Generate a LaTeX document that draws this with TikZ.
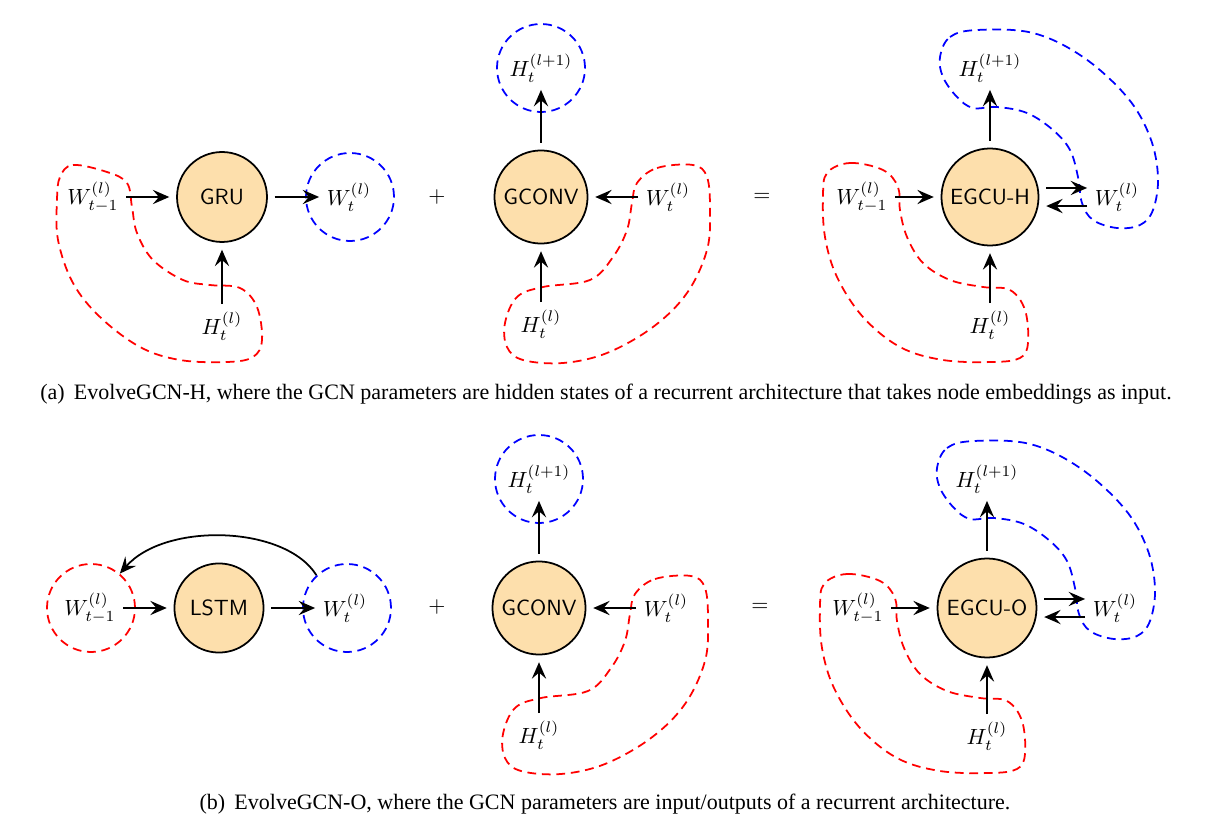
\documentclass[tikz,border=0pt]{standalone}
\usepackage{fontspec}
\newfontfamily\capfont{Liberation Serif}
\usetikzlibrary{arrows.meta}
\definecolor{procfill}{RGB}{253,223,172}
\tikzset{
  proc/.style={circle, draw=black, thick, fill=procfill, font=\sffamily, inner sep=0pt, outer sep=3.5pt},
  lbl/.style={inner sep=3.3pt},
  bcirc/.style={circle, draw=blue, thick, dash pattern=on 4pt off 2.6pt, minimum size=40pt, inner sep=0pt},
  rcirc/.style={circle, draw=red, thick, dash pattern=on 4pt off 2.6pt, minimum size=40pt, inner sep=0pt},
  rblob/.style={draw=red, thick, dash pattern=on 4pt off 2.6pt},
  bblob/.style={draw=blue, thick, dash pattern=on 4pt off 2.6pt},
  arr/.style={thick, -{Stealth[length=7.5pt, width=6.5pt, inset=2.8pt]}},
  capt/.style={font=\capfont, inner sep=0pt}
}
\begin{document}
\begin{tikzpicture}[x=0.4545pt, y=-0.4545pt]
\useasboundingbox (0,0) rectangle (1213,829);

% ===================== (a) =====================
% left: GRU
\draw[rblob] plot[smooth cycle, tension=0.6] coordinates {(60,177) (73,165) (107,172) (127,183) (132,207) (137,233) (153,260) (183,280) (210,285) (240,288) (257,307) (262,340) (253,357) (227,362) (180,360) (140,347) (100,317) (73,283) (58,240) (57,200)};
\node[proc, minimum size=40.9pt] (gru) at (222,197) {GRU};
\node[lbl] (wt1a) at (93,197) {$W_{t-1}^{(l)}$};
\node[lbl] (wta) at (349,197) {$W_{t}^{(l)}$};
\node[bcirc] (wtac) at (350,197) {};
\node[lbl] (hta) at (222,326) {$H_{t}^{(l)}$};
\draw[arr] (wt1a) -- (gru);
\draw[arr] (gru) -- (wta);
\draw[arr] (hta) -- (gru);

\node (plusa) at (437,197) {$+$};

% middle: GCONV
\draw[rblob] plot[smooth cycle, tension=0.6] coordinates {(637,183) (657,168) (693,165) (707,177) (710,210) (707,250) (687,293) (653,327) (607,353) (563,363) (523,360) (507,347) (505,323) (517,297) (543,287) (590,280) (613,257) (627,230) (632,203)};
\node[proc, minimum size=42.3pt] (gconva) at (541,197) {GCONV};
\node[lbl] (hl1a) at (541,68) {$H_{t}^{(l+1)}$};
\node[bcirc] (hl1ac) at (541,68) {};
\node[lbl] (wtma) at (668,197) {$W_{t}^{(l)}$};
\node[lbl] (htma) at (541,324) {$H_{t}^{(l)}$};
\draw[arr] (gconva) -- (hl1a);
\draw[arr] (wtma) -- (gconva);
\draw[arr] (htma) -- (gconva);

\node (eqa) at (762,197) {$=$};

% right: EGCU-H
\draw[bblob] plot[smooth cycle, tension=0.6] coordinates {(940,57) (950,37) (977,30) (1033,33) (1083,57) (1127,97) (1150,137) (1158,177) (1153,210) (1140,225) (1117,228) (1093,220) (1082,203) (1078,177) (1070,150) (1053,130) (1027,113) (997,107) (973,108) (957,97) (943,77)};
\draw[rblob] plot[smooth cycle, tension=0.6] coordinates {(827,173) (850,163) (883,170) (898,187) (900,210) (907,237) (923,263) (950,280) (983,287) (1010,290) (1025,310) (1028,343) (1020,358) (993,362) (943,360) (900,347) (863,317) (837,277) (825,237) (823,197)};
\node[proc, minimum size=44.1pt] (egcuh) at (990,197) {EGCU-H};
\node[lbl] (hl1r) at (990,68) {$H_{t}^{(l+1)}$};
\node[lbl] (wt1r) at (862,197) {$W_{t-1}^{(l)}$};
\node[lbl] (wtr) at (1117,197) {$W_{t}^{(l)}$};
\node[lbl] (htr) at (990,325) {$H_{t}^{(l)}$};
\draw[arr] (egcuh) -- (hl1r);
\draw[arr] (wt1r) -- (egcuh);
\draw[arr] (htr) -- (egcuh);
\draw[arr] ([yshift=4.1pt]egcuh.east) -- ([yshift=4.1pt]egcuh.east -| wtr.west);
\draw[arr] ([yshift=-4.1pt]egcuh.east -| wtr.west) -- ([yshift=-4.1pt]egcuh.east);

\node[capt] (capa) at (606,394) {(a)\, EvolveGCN-H, where the GCN parameters are hidden states of a recurrent architecture that takes node embeddings as input.};

% ===================== (b) =====================
% left: LSTM
\node[proc, minimum size=40.5pt] (lstm) at (219,608) {LSTM};
\node[lbl] (wt1b) at (90,608) {$W_{t-1}^{(l)}$};
\node[rcirc] (wt1bc) at (91,608) {};
\node[lbl] (wtb) at (345,608) {$W_{t}^{(l)}$};
\node[bcirc] (wtbc) at (347,608) {};
\draw[arr] (wt1b) -- (lstm);
\draw[arr] (lstm) -- (wtb);
\draw[arr] (wtbc.133) .. controls (285,525) and (165,522) .. (wt1bc.50);

\node (plusb) at (437,607) {$+$};

\begin{scope}[shift={(-2,411)}]
\draw[rblob] plot[smooth cycle, tension=0.6] coordinates {(637,183) (657,168) (693,165) (707,177) (710,210) (707,250) (687,293) (653,327) (607,353) (563,363) (523,360) (507,347) (505,323) (517,297) (543,287) (590,280) (613,257) (627,230) (632,203)};
\node[proc, minimum size=42.3pt] (gconvb) at (541,197) {GCONV};
\node[lbl] (hl1b) at (541,68) {$H_{t}^{(l+1)}$};
\node[bcirc] (hl1bc) at (541,68) {};
\node[lbl] (wtmb) at (668,197) {$W_{t}^{(l)}$};
\node[lbl] (htmb) at (541,324) {$H_{t}^{(l)}$};
\draw[arr] (gconvb) -- (hl1b);
\draw[arr] (wtmb) -- (gconvb);
\draw[arr] (htmb) -- (gconvb);
\end{scope}

\node (eqb) at (760,607) {$=$};

\begin{scope}[shift={(-3,411)}]
\draw[bblob] plot[smooth cycle, tension=0.6] coordinates {(940,57) (950,37) (977,30) (1033,33) (1083,57) (1127,97) (1150,137) (1158,177) (1153,210) (1140,225) (1117,228) (1093,220) (1082,203) (1078,177) (1070,150) (1053,130) (1027,113) (997,107) (973,108) (957,97) (943,77)};
\draw[rblob] plot[smooth cycle, tension=0.6] coordinates {(827,173) (850,163) (883,170) (898,187) (900,210) (907,237) (923,263) (950,280) (983,287) (1010,290) (1025,310) (1028,343) (1020,358) (993,362) (943,360) (900,347) (863,317) (837,277) (825,237) (823,197)};
\node[proc, minimum size=45pt] (egcuo) at (990,197) {EGCU-O};
\node[lbl] (hl1o) at (990,68) {$H_{t}^{(l+1)}$};
\node[lbl] (wt1o) at (861,197) {$W_{t-1}^{(l)}$};
\node[lbl] (wto) at (1118,197) {$W_{t}^{(l)}$};
\node[lbl] (hto) at (990,325) {$H_{t}^{(l)}$};
\draw[arr] (egcuo) -- (hl1o);
\draw[arr] (wt1o) -- (egcuo);
\draw[arr] (hto) -- (egcuo);
\draw[arr] ([yshift=4.1pt]egcuo.east) -- ([yshift=4.1pt]egcuo.east -| wto.west);
\draw[arr] ([yshift=-4.1pt]egcuo.east -| wto.west) -- ([yshift=-4.1pt]egcuo.east);
\end{scope}

\node[capt] (capb) at (605,804) {(b)\, EvolveGCN-O, where the GCN parameters are input/outputs of a recurrent architecture.};
\end{tikzpicture}
\end{document}
